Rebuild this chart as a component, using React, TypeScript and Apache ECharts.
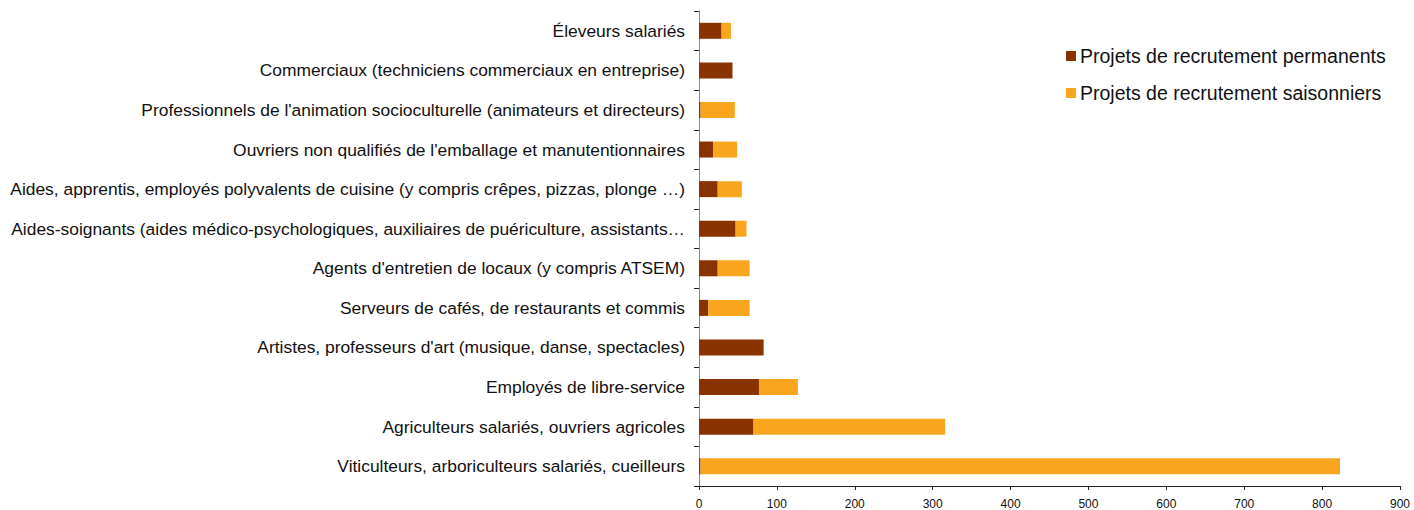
import React, { useEffect, useRef } from "react";
import * as echarts from "echarts";

const categories = [
  "Viticulteurs, arboriculteurs salariés, cueilleurs",
  "Agriculteurs salariés, ouvriers agricoles",
  "Employés de libre-service",
  "Artistes, professeurs d'art (musique, danse, spectacles)",
  "Serveurs de cafés, de restaurants et commis",
  "Agents d'entretien de locaux (y compris ATSEM)",
  "Aides-soignants (aides médico-psychologiques, auxiliaires de puériculture, assistants…",
  "Aides, apprentis, employés polyvalents de cuisine (y compris crêpes, pizzas, plonge …)",
  "Ouvriers non qualifiés de l'emballage et manutentionnaires",
  "Professionnels de l'animation socioculturelle (animateurs et directeurs)",
  "Commerciaux (techniciens commerciaux en entreprise)",
  "Éleveurs salariés",
];

const permanents = [2, 70, 77, 83, 12, 24, 47, 24, 18, 2, 43, 29];
const saisonniers = [821, 246, 50, 0, 53, 41, 14, 31, 31, 44, 0, 12];

const xTicks = [0, 100, 200, 300, 400, 500, 600, 700, 800, 900];

export default function App() {
  const ref = useRef<HTMLDivElement>(null);
  useEffect(() => {
    if (!ref.current) return;
    const chart = echarts.init(ref.current, undefined, { renderer: "svg" });
    chart.setOption({
      animation: false,
      textStyle: { fontFamily: "Liberation Sans, Arial, sans-serif" },
      grid: { left: 699, right: 14, top: 11, bottom: 23, containLabel: false },
      legend: {
        orient: "vertical",
        left: 1066,
        top: 46,
        padding: 0,
        itemWidth: 10,
        itemHeight: 10,
        itemGap: 17,
        icon: "rect",
        textStyle: { fontSize: 19.5, color: "#111", fontFamily: "Liberation Sans, Arial, sans-serif", padding: [0, 0, 0, -1] },
        data: ["Projets de recrutement permanents", "Projets de recrutement saisonniers"],
      },
      xAxis: {
        type: "value",
        min: xTicks[0],
        max: xTicks[xTicks.length - 1],
        interval: 100,
        axisLine: { show: true, lineStyle: { color: "#222", width: 1 } },
        axisTick: { show: true, length: 4, lineStyle: { color: "#222" } },
        axisLabel: { fontSize: 12, color: "#111", margin: 12 },
        splitLine: { show: false },
      },
      yAxis: {
        type: "category",
        data: categories,
        axisLine: { show: true, lineStyle: { color: "#888", width: 1 } },
        axisTick: { show: true, length: 5, lineStyle: { color: "#222" } },
        axisLabel: { fontSize: 17.4, color: "#111", margin: 14 },
      },
      series: [
        {
          name: "Projets de recrutement permanents",
          type: "bar",
          stack: "total",
          barWidth: 16,
          itemStyle: { color: "#883300" },
          data: permanents,
        },
        {
          name: "Projets de recrutement saisonniers",
          type: "bar",
          stack: "total",
          barWidth: 16,
          itemStyle: { color: "#F9A61E" },
          data: saisonniers,
        },
      ],
    });
    return () => chart.dispose();
  }, []);
  return <div ref={ref} style={{ width: 1414, height: 510, position: "absolute", left: 0, top: 0 }} />;
}
